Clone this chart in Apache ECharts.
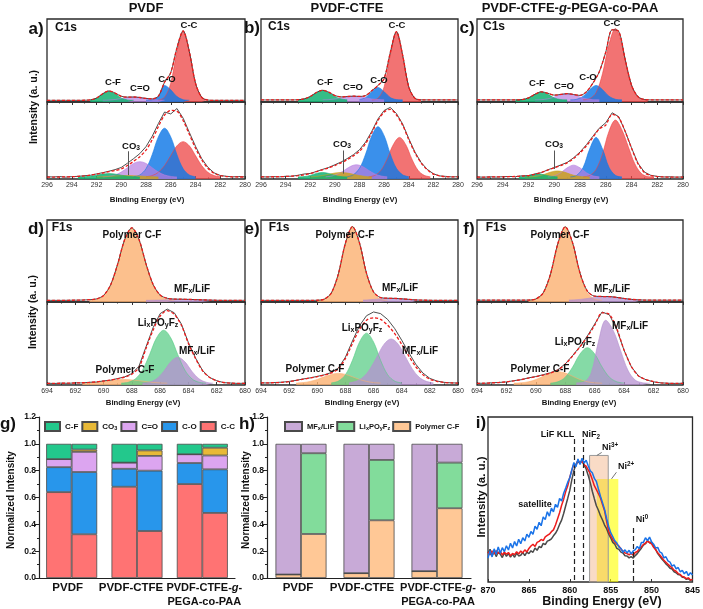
<!DOCTYPE html>
<html><head><meta charset="utf-8">
<script src="https://cdn.jsdelivr.net/npm/echarts/dist/echarts.min.js"></script>
<style>html,body{margin:0;padding:0;background:#fff}#c{width:703px;height:609px}</style>
</head><body><div id="c"></div>
<script>
// ---------------- DATA ----------------
const c1sEnergy = [296,295.5,295,294.5,294,293.5,293,292.5,292,291.5,291,290.5,290,289.5,289,288.5,288,287.5,287,286.5,286,285.5,285,284.5,284,283.5,283,282.5,282,281.5,281,280.5,280];
const f1sEnergy = [694,693.5,693,692.5,692,691.5,691,690.5,690,689.5,689,688.5,688,687.5,687,686.5,686,685.5,685,684.5,684,683.5,683,682.5,682,681.5,681,680.5,680];

// a) PVDF C1s
const aTopEnv = [2.0,2.0,2.0,2.0,2.0,2.0,2.1,2.5,4.7,9.9,13.3,10.8,6.9,5.9,6.0,5.4,4.3,3.8,7.1,23.8,35.4,65.2,85.8,60.8,22.7,5.7,2.3,2.0,2.0,2.0,2.0,2.0,2.0];
const aTopCC = [[287,2.3],[286.5,5.7],[286,22.7],[285.5,60.7],[285,85],[284.5,60.7],[284,22.7],[283.5,5.7],[283,2.3]];
const aTopCO = [[288,2.1],[287.5,2.8],[287,6.5],[286.5,20],[286,14.7],[285.5,6.5],[285,2.8],[284.5,2.1]];
const aTopCdO = [[291.5,2.1],[291,2.3],[290.5,3.0],[290,4.2],[289.5,5.4],[289,6.0],[288.5,5.4],[288,4.2],[287.5,3.0],[287,2.3],[286.5,2.1]];
const aTopCF = [[292.5,2.5],[292,4.7],[291.5,9.8],[291,13],[290.5,9.8],[290,4.7],[289.5,2.5],[289,2.0]];
const aBotEnv = [2.5,2.5,2.6,2.8,3.0,3.4,4.0,5.0,6.3,7.8,9.5,11.0,13.0,17.5,23.0,29.0,37.5,51.0,68.0,83.0,89.0,88.0,76.0,58.0,40.0,25.0,14.0,7.5,4.3,3.2,2.8,2.6,2.6];
const aBotRaw = [3.0,2.6,3.2,2.4,3.1,3.4,4.3,4.8,6.6,8.2,10.1,12.2,15.0,20.5,26.5,33.0,42.0,55.5,72.0,87.0,84.5,91.5,79.0,60.5,42.5,26.5,15.2,8.0,4.6,3.5,2.8,3.2,2.8];
const aBotCC = [[288,3.0],[287.5,4.5],[287,8.7],[286.5,17.4],[286,30.4],[285.5,43.1],[285,48.5],[284.5,43.1],[284,30.4],[283.5,17.4],[283,8.7],[282.5,4.5],[282,3.0]];
const aBotCO = [[289,3.0],[288.5,5.3],[288,13.4],[287.5,31.6],[287,54.7],[286.5,66.0],[286,54.7],[285.5,31.6],[285,13.4],[284.5,5.3],[284,3.0]];
const aBotCdO = [[291.5,2.7],[291,3.4],[290.5,5.2],[290,9.0],[289.5,14.6],[289,20.2],[288.5,22.5],[288,20.2],[287.5,14.6],[287,9.0],[286.5,5.2],[286,3.4],[285.5,2.7]];
const aBotCF = [[293.5,2.6],[293,2.9],[292.5,3.6],[292,4.9],[291.5,6.4],[291,7.0],[290.5,6.4],[290,4.9],[289.5,3.6],[289,2.9],[288.5,2.6]];
const aBotCO3 = [[292,2.7],[291.5,3.0],[291,3.4],[290.5,3.9],[290,4.3],[289.5,4.5],[289,4.3],[288.5,3.9],[288,3.4],[287.5,3.0],[287,2.7]];

// b) PVDF-CTFE C1s
const bTopEnv = [2.5,2.5,2.5,2.5,2.5,2.5,2.7,3.7,6.6,11.4,14.1,11.8,7.8,6.1,6.6,7.0,6.7,7.8,13.6,19.9,28.2,59.6,84.9,56.7,18.2,4.5,2.6,2.5,2.5,2.5,2.5,2.5,2.5];
const bTopCC = [[287,2.6],[286.5,4.5],[286,18.2],[285.5,56.7],[285,84.5],[284.5,56.7],[284,18.2],[283.5,4.5],[283,2.6]];
const bTopCO = [[288,2.9],[287.5,5.4],[287,12.4],[286.5,17.5],[286,12.4],[285.5,5.4],[285,2.9],[284.5,2.5]];
const bTopCdO = [[291,2.6],[290.5,2.9],[290,3.6],[289.5,4.9],[289,6.4],[288.5,7.0],[288,6.4],[287.5,4.9],[287,3.6],[286.5,2.9],[286,2.6]];
const bTopCF = [[293,2.7],[292.5,3.7],[292,6.6],[291.5,11.4],[291,14.0],[290.5,11.4],[290,6.6],[289.5,3.7],[289,2.7]];
const bBotEnv = [2.8,2.8,2.9,3.0,3.3,3.7,4.4,5.4,7.0,9.5,12.0,14.5,17.5,21.0,25.0,30.0,36.0,46.0,60.0,76.0,87.0,90.5,83.0,70.0,51.0,34.0,21.0,12.0,6.4,4.0,3.0,2.8,2.8];
const bBotRaw = [3.0,2.6,3.1,2.8,3.5,3.6,4.8,6.5,7.2,9.8,12.5,15.0,18.5,22.0,26.5,31.5,38.0,48.0,62.0,78.0,89.0,93.0,85.0,71.5,52.5,35.0,21.5,12.5,6.8,4.0,3.4,2.7,3.0];
const bBotCO = [[289,3.0],[288.5,5.4],[288,13.8],[287.5,32.5],[287,56.3],[286.5,68.0],[286,56.3],[285.5,32.5],[285,13.8],[284.5,5.4],[284,3.0]];
const bBotCC = [[287.25,2.9],[286.75,4.8],[286.25,11.4],[285.75,26.1],[285.25,44.8],[284.75,54.0],[284.25,44.8],[283.75,26.1],[283.25,11.4],[282.75,4.8],[282.25,2.9]];
const bBotCdO = [[290.75,2.8],[290.25,3.9],[289.75,6.5],[289.25,11.1],[288.75,16.2],[288.25,18.5],[287.75,16.2],[287.25,11.1],[286.75,6.5],[286.25,3.9],[285.75,2.8]];
const bBotCO3 = [[292,2.8],[291.5,3.3],[291,4.5],[290.5,6.1],[290,7.8],[289.5,8.5],[289,7.8],[288.5,6.1],[288,4.5],[287.5,3.3],[287,2.8]];
const bBotCF = [[293,2.6],[292.5,3.1],[292,4.7],[291.5,7.2],[291,8.5],[290.5,7.2],[290,4.7],[289.5,3.1],[289,2.6]];

// c) PVDF-CTFE-g-PEGA-co-PAA C1s
const cTopEnv = [2.5,2.5,2.5,2.5,2.5,2.5,2.5,2.9,4.9,9.3,12.3,10.5,8.3,9.1,10.0,9.0,7.9,12.3,22.7,36.5,60.0,87.0,85.3,52.0,20.4,6.4,3.0,2.5,2.5,2.5,2.5,2.5,2.5];
const cTopCC = [[287.75,2.7],[287.25,4.0],[286.75,11.3],[286.25,34.2],[285.75,69.5],[285.25,88.5],[284.75,69.5],[284.25,34.2],[283.75,11.3],[283.25,4.0],[282.75,2.7]];
const cTopCO = [[288.75,2.6],[288.25,3.3],[287.75,6.9],[287.25,14.9],[286.75,20.0],[286.25,14.9],[285.75,6.9],[285.25,3.3],[284.75,2.6]];
const cTopCdO = [[291.5,2.6],[291,2.8],[290.5,3.8],[290,5.9],[289.5,8.7],[289,10.0],[288.5,8.7],[288,5.9],[287.5,3.8],[287,2.8],[286.5,2.6]];
const cTopCF = [[293,2.5],[292.5,2.9],[292,4.9],[291.5,9.2],[291,12.0],[290.5,9.2],[290,4.9],[289.5,2.9],[289,2.5]];
const cBotEnv = [2.5,2.5,2.6,2.7,2.8,3.0,3.3,3.8,4.5,6.0,8.5,11.5,14.5,17.5,21.0,26.5,34.0,43.0,54.0,65.0,70.0,84.0,80.0,62.0,40.0,20.0,8.5,4.5,3.2,2.7,2.5,2.5,2.5];
const cBotRaw = [2.8,2.3,2.9,2.5,3.0,3.3,3.1,4.2,4.4,6.6,8.2,12.0,14.8,18.2,21.5,27.5,35.0,44.5,55.5,66.0,73.0,86.0,81.0,62.5,40.5,20.5,9.0,4.8,3.4,2.6,2.9,2.4,2.7];
const cBotCC = [[287.75,2.8],[287.25,4.6],[286.75,12.5],[286.25,32.9],[285.75,61.8],[285.25,76.5],[284.75,64.0],[284.25,42.0],[283.75,20.0],[283.25,7.5],[282.75,3.2],[282.25,2.6]];
const cBotCO = [[288.75,2.7],[288.25,4.8],[287.75,15.3],[287.25,38.9],[286.75,54.0],[286.25,38.9],[285.75,15.3],[285.25,4.8],[284.75,2.7]];
const cBotCdO = [[290.5,2.8],[290,4.1],[289.5,8.1],[289,14.5],[288.5,18.0],[288,14.5],[287.5,8.1],[287,4.1],[286.5,2.8]];
const cBotCO3 = [[292.25,2.6],[291.75,2.9],[291.25,3.9],[290.75,6.2],[290.25,9.1],[289.75,10.5],[289.25,9.1],[288.75,6.2],[288.25,3.9],[287.75,2.9],[287.25,2.6]];
const cBotCF = [[292.75,2.7],[292.25,3.5],[291.75,5.3],[291.25,6.5],[290.75,5.3],[290.25,3.5],[289.75,2.7]];

// d) PVDF F1s
const dTopEnv = [2.0,2.0,2.0,2.1,2.2,2.4,2.8,3.8,8.0,21.0,46.5,76.5,90.5,76.5,46.5,21.5,8.5,4.5,3.6,3.4,3.2,2.9,2.6,2.3,2.1,2.0,2.0,2.0,2.0];
const dTopPCF = [[691,2.2],[690.5,3.2],[690,7.5],[689.5,20.6],[689,46.0],[688.5,76.0],[688,90.0],[687.5,76.0],[687,46.0],[686.5,20.6],[686,7.5],[685.5,3.2],[685,2.2]];
const dTopMF = [[687,2.0],[686,2.3],[685.5,2.7],[685,3.1],[684.5,3.2],[684,3.1],[683.5,2.8],[683,2.4],[682,2.0]];
const dBotEnv = [2.0,2.0,2.1,2.2,2.4,2.7,3.1,3.8,4.8,6.0,7.5,9.5,13.0,21.0,44.0,66.0,83.0,89.5,85.0,72.0,50.0,32.0,17.0,9.0,5.0,3.0,2.3,2.0,2.0];
const dBotRaw = [2.2,1.8,2.3,2.0,2.6,2.5,3.3,3.6,5.0,5.8,7.8,9.8,13.8,22.5,46.0,69.0,86.0,91.5,87.0,73.5,51.0,32.5,17.5,9.0,5.2,2.8,2.4,1.9,2.2];
const dBotPCF = [[691.5,2.2],[691,2.5],[690.5,3.1],[690,4.1],[689.5,5.2],[689,6.1],[688.5,6.5],[688,6.1],[687.5,5.2],[687,4.1],[686.5,3.1],[686,2.5],[685.5,2.2]];
const dBotLPF = [[688.75,2.25],[688.25,3.3],[687.75,7.4],[687.25,17.9],[686.75,36.5],[686.25,56.8],[685.75,66.0],[685.25,56.8],[684.75,36.5],[684.25,17.9],[683.75,7.4],[683.25,3.3],[682.75,2.25]];
const dBotMF = [[687.25,2.2],[686.75,3.4],[686.25,7.4],[685.75,16.4],[685.25,27.9],[684.75,33.5],[684.25,27.9],[683.75,16.4],[683.25,7.4],[682.75,3.4],[682.25,2.2]];

// e) PVDF-CTFE F1s
const eTopEnv = [2.0,2.0,2.0,2.0,2.0,2.0,2.0,2.0,2.15,3.5,11.0,34.4,71.8,92.0,72.0,34.9,12.2,5.4,4.6,4.4,3.9,3.2,2.5,2.2,2.1,2.0,2.0,2.0,2.0];
const eTopPCF = [[690,2.15],[689.5,3.5],[689,11.0],[688.5,34.4],[688,71.8],[687.5,92.0],[687,71.8],[686.5,34.4],[686,11.0],[685.5,3.5],[685,2.15]];
const eTopMF = [[686.75,2.3],[686.25,2.8],[685.75,3.5],[685.25,4.2],[684.75,4.5],[684.25,4.2],[683.75,3.5],[683.25,2.8],[682.75,2.3]];
const eBotEnv = [2.5,2.6,2.8,3.2,4.0,5.5,7.0,8.5,10.0,12.0,14.5,19.5,32.0,50.0,67.0,78.0,81.0,79.0,72.0,62.0,49.0,35.0,22.0,12.5,7.0,4.5,3.0,2.5,2.3];
const eBotRaw = [2.6,2.4,3.0,3.4,4.3,5.6,7.3,8.6,10.4,12.3,15.0,20.5,33.5,53.0,71.5,83.5,88.0,86.0,79.0,68.0,54.0,39.0,25.0,14.5,8.0,4.8,3.2,2.6,2.4];
const eBotPCF = [[691.5,2.3],[691,2.9],[690.5,4.3],[690,6.7],[689.5,9.9],[689,12.8],[688.5,14.0],[688,12.8],[687.5,9.9],[687,6.7],[686.5,4.3],[686,2.9],[685.5,2.3]];
const eBotLPF = [[689,2.5],[688.5,4.7],[688,12.4],[687.5,29.7],[687,51.7],[686.5,62.5],[686,51.7],[685.5,29.7],[685,12.4],[684.5,4.7],[684,2.5]];
const eBotMF = [[687.75,2.6],[687.25,4.4],[686.75,9.2],[686.25,19.4],[685.75,34.4],[685.25,49.2],[684.75,55.5],[684.25,49.2],[683.75,34.4],[683.25,19.4],[682.75,9.2],[682.25,4.4],[681.75,2.6]];

// f) PVDF-CTFE-g-PEGA-co-PAA F1s
const fTopEnv = [2.2,2.2,2.2,2.2,2.2,2.2,2.2,2.35,3.7,11.2,34.4,71.6,91.7,72.0,35.4,13.2,7.1,6.7,6.6,5.6,4.3,3.2,2.6,2.3,2.25,2.2,2.2,2.2,2.2];
const fTopPCF = [[690.5,2.35],[690,3.7],[689.5,11.15],[689,34.4],[688.5,71.6],[688,91.7],[687.5,71.6],[687,34.4],[686.5,11.15],[686,3.7],[685.5,2.35]];
const fTopMF = [[687.75,2.4],[687.25,2.8],[686.75,3.65],[686.25,4.9],[685.75,6.2],[685.25,6.7],[684.75,6.2],[684.25,4.9],[683.75,3.65],[683.25,2.8],[682.75,2.4]];
const fBotEnv = [2.0,2.2,2.5,3.0,3.8,5.0,6.5,8.3,10.0,12.0,14.5,18.0,25.0,35.0,46.0,58.0,72.0,87.0,85.0,68.0,42.0,22.0,10.5,6.5,4.0,2.5,2.0,2.0,2.0];
const fBotRaw = [2.2,2.0,2.7,3.1,3.7,5.2,6.4,8.6,10.2,12.4,14.8,18.5,25.5,35.5,46.5,59.0,73.5,88.0,84.5,67.0,41.5,21.5,10.5,6.2,3.8,2.6,2.1,1.9,2.1];
const fBotPCF = [[691.5,2.2],[691,2.6],[690.5,3.9],[690,6.5],[689.5,10.5],[689,14.4],[688.5,16.0],[688,14.4],[687.5,10.5],[687,6.5],[686.5,3.9],[686,2.6],[685.5,2.2]];
const fBotLPF = [[689,2.3],[688.5,3.9],[688,9.4],[687.5,21.7],[687,37.3],[686.5,45.0],[686,37.3],[685.5,21.7],[685,9.4],[684.5,3.9],[684,2.3]];
const fBotMF = [[687.25,2.5],[686.75,3.5],[686.25,14.0],[685.75,52.0],[685.25,78.0],[684.75,66.0],[684.25,42.0],[683.75,18.0],[683.25,6.0],[682.75,2.8],[682.25,2.2]];

// g) C1s normalized intensities (left bar / right bar per sample)
const samples = ['PVDF', 'PVDF-CTFE', 'PVDF-CTFE-g-PEGA-co-PAA'];
const gL_CC = [0.640, 0.680, 0.700], gL_CO = [0.186, 0.134, 0.157], gL_CdO = [0.060, 0.046, 0.065], gL_CO3 = [0, 0, 0], gL_CF = [0.114, 0.140, 0.078];
const gR_CC = [0.326, 0.350, 0.485], gR_CO = [0.464, 0.450, 0.325], gR_CdO = [0.150, 0.110, 0.103], gR_CO3 = [0.017, 0.041, 0.058], gR_CF = [0.043, 0.049, 0.029];
// h) F1s normalized intensities
const hL_PCF = [0.026, 0.036, 0.051], hL_LPF = [0, 0, 0], hL_MF = [0.974, 0.964, 0.949];
const hR_PCF = [0.328, 0.430, 0.520], hR_LPF = [0.602, 0.450, 0.340], hR_MF = [0.070, 0.120, 0.140];
const yTicks = [0, 0.2, 0.4, 0.6, 0.8, 1.0, 1.2];

// i) Ni 2p spectra
const niEnergy = [870,
869.75,869.5,869.25,869, 868.75,868.5,868.25,868, 867.75,867.5,867.25,867, 866.75,866.5,866.25,866, 865.75,865.5,865.25,865,
864.75,864.5,864.25,864, 863.75,863.5,863.25,863, 862.75,862.5,862.25,862, 861.75,861.5,861.25,861, 860.75,860.5,860.25,860,
859.75,859.5,859.25,859, 858.75,858.5,858.25,858, 857.75,857.5,857.25,857, 856.75,856.5,856.25,856, 855.75,855.5,855.25,855,
854.75,854.5,854.25,854, 853.75,853.5,853.25,853, 852.75,852.5,852.25,852, 851.75,851.5,851.25,851, 850.75,850.5,850.25,850,
849.75,849.5,849.25,849, 848.75,848.5,848.25,848, 847.75,847.5,847.25,847, 846.75,846.5,846.25,846, 845.75,845.5,845.25,845];
const niBlack = [17.5,
19.8,16.0,18.6,15.4, 18.2,16.9,14.8,17.8, 15.6,17.2,15.1,16.9, 15.0,17.5,15.8,16.2, 17.9,16.0,18.1,17.2,
18.9,18.0,20.6,19.2, 21.5,20.8,23.4,22.6, 24.8,25.3,26.1,28.0, 29.5,31.8,34.9,37.5, 41.5,46.2,50.8,55.5,
62.0,67.5,71.2,73.5, 71.8,74.0,70.8,68.5, 64.6,60.2,55.0,50.5, 46.2,43.5,40.2,37.6, 34.5,32.3,29.1,26.8,
24.0,22.9,20.4,19.8, 18.1,17.6,15.9,15.8, 14.6,15.4,14.5,16.0, 17.2,18.9,20.5,22.4, 23.2,25.1,23.8,24.2,
21.5,19.8,17.2,15.6, 13.9,12.6,11.0,9.8, 8.3,7.9,6.2,5.6, 4.5,4.2,2.9,2.7, 1.6,2.2,1.0,1.5];
const niRed = [18.2,
16.5,18.8,17.0,19.0, 17.2,18.6,16.4,18.0, 16.8,17.9,15.9,17.3, 16.6,18.4,17.0,18.8, 17.6,19.5,18.2,20.3,
21.8,22.9,21.5,24.0, 24.6,25.8,25.1,27.4, 28.2,29.0,30.5,31.6, 34.5,38.2,42.0,46.5, 50.2,54.8,58.3,63.5,
67.8,71.6,70.5,73.8, 72.1,73.5,71.0,70.2, 68.0,65.6,62.1,58.4, 56.0,53.5,50.9,47.0, 43.2,36.8,31.0,27.9,
25.8,24.2,22.9,21.8, 20.0,18.8,17.6,17.2, 16.5,17.4,16.2,17.9, 18.5,20.1,21.4,22.8, 23.5,24.8,23.9,23.1,
21.0,19.5,17.8,16.4, 14.9,13.2,12.0,10.8, 9.6,8.7,7.2,6.5, 5.1,4.6,3.3,3.0, 2.1,2.5,1.2,1.6];
const niBlue = [14.5,
19.0,15.2,20.1,16.8, 21.2,17.5,20.8,18.4, 22.0,19.4,23.5,20.6, 24.5,21.8,25.9,23.2, 26.8,24.9,29.0,27.1,
30.6,28.9,33.8,32.0, 36.2,34.1,39.5,37.8, 42.6,39.9,44.8,42.5, 47.1,45.2,50.6,49.0, 53.8,56.9,60.5,63.2,
67.9,72.4,69.8,74.6, 71.2,75.0,72.1,73.8, 70.5,67.4,66.2,62.8, 60.9,56.4,52.0,48.1, 44.0,38.5,33.8,29.9,
27.5,25.0,23.6,21.2, 20.4,18.0,19.5,17.6, 19.2,17.0,18.8,19.6, 21.5,20.2,23.9,24.0, 26.8,25.1,27.2,24.3,
22.9,20.6,21.0,18.2, 17.5,14.6,15.3,12.8, 12.1,9.6,10.4,8.0, 8.8,6.2,7.1,5.0, 6.4,3.9,5.6,4.2];

// ---------------- BUILD ----------------
const FONT = '"Liberation Sans", Arial, Helvetica, sans-serif';
const zip = (xs, ys) => xs.map((x, i) => [x, ys[i]]);
const COL = {CC:'#ee4242', CO:'#0f78e6', CdO:'#b67ee0', CF:'#12b272', CO3:'#c8a020', PCF:'#fbb070', LPF:'#56cc84', MF:'#b590d0'};
const OP = {CC:0.74, CO:0.82, CdO:0.7, CF:0.85, CO3:0.85, PCF:0.8, LPF:0.72, MF:0.75};

const grid = [], xAxis = [], yAxis = [], series = [];
const tickStyle = {color:'#333', width:1};

function sub(left, width, top, height, xmin, xmax, bottom) {
  const gi = grid.length;
  grid.push({left, top, width, height, show:true, borderColor:'#2a2a2a', borderWidth:1.3, backgroundColor:'transparent'});
  const xi = xAxis.length;
  const base = {gridIndex:gi, type:'value', min:xmin, max:xmax, inverse:true, interval:2, splitLine:{show:false}, axisLine:{show:false}};
  if (bottom) {
    xAxis.push(Object.assign({}, base, {position:'bottom', axisTick:{show:true, inside:true, length:3, lineStyle:tickStyle},
      minorTick:{show:true, splitNumber:2, length:1.5, lineStyle:tickStyle},
      axisLabel:{show:true, fontSize:7, color:'#333', margin:3, fontFamily:FONT}}));
    xAxis.push(Object.assign({}, base, {position:'top', axisTick:{show:true, inside:true, length:3, lineStyle:tickStyle},
      minorTick:{show:true, splitNumber:2, length:1.5, lineStyle:tickStyle}, axisLabel:{show:false}}));
  } else {
    xAxis.push(Object.assign({}, base, {axisTick:{show:false}, axisLabel:{show:false}}));
  }
  const yi = yAxis.length;
  yAxis.push({gridIndex:gi, type:'value', min:0, max:100, show:false});
  return {xi, yi};
}
function comp(ax, key, data) {
  series.push({type:'line', xAxisIndex:ax.xi, yAxisIndex:ax.yi, data, smooth:0.35, symbol:'none', silent:true,
    lineStyle:{width:0.6, color:COL[key]}, areaStyle:{color:COL[key], opacity:OP[key]}});
}
function raw(ax, data, smooth) {
  series.push({type:'line', xAxisIndex:ax.xi, yAxisIndex:ax.yi, data, smooth:smooth?0.3:false, symbol:'none', silent:true,
    lineStyle:{width:0.9, color:'#3a3a3a'}});
}
function env(ax, data) {
  series.push({type:'line', xAxisIndex:ax.xi, yAxisIndex:ax.yi, data, smooth:0.3, symbol:'none', silent:true,
    lineStyle:{width:1.3, color:'#ee1a1a', type:[3,2]}});
}
function leader(ax, pts, style) {
  series.push({type:'line', xAxisIndex:ax.xi, yAxisIndex:ax.yi, data:[], silent:true, z:8,
    markLine:{silent:true, symbol:'none', label:{show:false}, animation:false,
      lineStyle:Object.assign({color:'#555', width:1, type:'solid'}, style||{}),
      data: pts.map(p => [{coord:[p[0], p[1]]}, {coord:[p[2], p[3]]}])}});
}

const COLS = [{left:47, width:198}, {left:261, width:197}, {left:477, width:206}];
const R1 = {t:[19,83], b:[102,77]}, R2 = {t:[220,82], b:[302,83]};

// C1s row
const c1s = [
  {top:[['CC',aTopCC],['CO',aTopCO],['CdO',aTopCdO],['CF',aTopCF]], tEnv:aTopEnv,
   bot:[['CC',aBotCC],['CO',aBotCO],['CdO',aBotCdO],['CO3',aBotCO3],['CF',aBotCF]], bEnv:aBotEnv, bRaw:aBotRaw, lead:[289.4,36,289.4,5]},
  {top:[['CC',bTopCC],['CO',bTopCO],['CdO',bTopCdO],['CF',bTopCF]], tEnv:bTopEnv,
   bot:[['CC',bBotCC],['CO',bBotCO],['CdO',bBotCdO],['CO3',bBotCO3],['CF',bBotCF]], bEnv:bBotEnv, bRaw:bBotRaw, lead:[289.3,37,289.3,7]},
  {top:[['CC',cTopCC],['CO',cTopCO],['CdO',cTopCdO],['CF',cTopCF]], tEnv:cTopEnv,
   bot:[['CC',cBotCC],['CO',cBotCO],['CdO',cBotCdO],['CO3',cBotCO3],['CF',cBotCF]], bEnv:cBotEnv, bRaw:cBotRaw, lead:[290.0,37,290.0,13]}
];
c1s.forEach((p, k) => {
  const c = COLS[k];
  const t = sub(c.left, c.width, R1.t[0], R1.t[1], 280, 296, false);
  p.top.forEach(q => comp(t, q[0], q[1]));
  raw(t, zip(c1sEnergy, p.tEnv), true);
  env(t, zip(c1sEnergy, p.tEnv));
  const b = sub(c.left, c.width, R1.b[0], R1.b[1], 280, 296, true);
  p.bot.forEach(q => comp(b, q[0], q[1]));
  raw(b, zip(c1sEnergy, p.bRaw), false);
  env(b, zip(c1sEnergy, p.bEnv));
  leader(b, [p.lead]);
});
// F1s row
const f1s = [
  {top:[['PCF',dTopPCF],['MF',dTopMF]], tEnv:dTopEnv, bot:[['PCF',dBotPCF],['LPF',dBotLPF],['MF',dBotMF]], bEnv:dBotEnv, bRaw:dBotRaw},
  {top:[['PCF',eTopPCF],['MF',eTopMF]], tEnv:eTopEnv, bot:[['PCF',eBotPCF],['LPF',eBotLPF],['MF',eBotMF]], bEnv:eBotEnv, bRaw:eBotRaw},
  {top:[['PCF',fTopPCF],['MF',fTopMF]], tEnv:fTopEnv, bot:[['PCF',fBotPCF],['LPF',fBotLPF],['MF',fBotMF]], bEnv:fBotEnv, bRaw:fBotRaw}
];
f1s.forEach((p, k) => {
  const c = COLS[k];
  const t = sub(c.left, c.width, R2.t[0], R2.t[1], 680, 694, false);
  p.top.forEach(q => comp(t, q[0], q[1]));
  raw(t, zip(f1sEnergy, p.tEnv), true);
  env(t, zip(f1sEnergy, p.tEnv));
  const b = sub(c.left, c.width, R2.b[0], R2.b[1], 680, 694, true);
  p.bot.forEach(q => comp(b, q[0], q[1]));
  raw(b, zip(f1sEnergy, p.bRaw), false);
  env(b, zip(f1sEnergy, p.bEnv));
});

// bar panels g, h
function barPanel(left, width, pads) {
  const gi = grid.length;
  grid.push({left, top:417, width, height:165});
  const xi = xAxis.length;
  const lab = {fontWeight:'bold', fontSize:11.5, fontFamily:FONT, color:'#111', lineHeight:14};
  const lab3 = Object.assign({}, lab, {fontSize:11, padding:[0, 0, 0, pads[2]]});
  xAxis.push({gridIndex:gi, type:'category', data:samples, axisTick:{show:false},
    axisLine:{lineStyle:{color:'#222', width:1.2}},
    axisLabel:{interval:0, margin:3, color:'#111', fontSize:11.5, fontWeight:'bold', fontFamily:FONT, lineHeight:14,
      formatter: v => v === samples[0] ? '{l0|PVDF}' : (v === samples[1] ? '{l1|PVDF-CTFE}' : '{l2|PVDF-CTFE-}{i|g}{l3|-}\n{l2|PEGA-co-PAA}'),
      rich:{i:Object.assign({}, lab, {fontSize:11, fontStyle:'italic'}),
            l0:Object.assign({}, lab, {padding:[0, pads[0], 0, 0]}),
            l1:Object.assign({}, lab, {padding:[0, pads[1], 0, 0]}),
            l2:lab3, l3:Object.assign({}, lab, {fontSize:11})}}});
  const yi = yAxis.length;
  yAxis.push({gridIndex:gi, type:'value', min:yTicks[0], max:yTicks[yTicks.length-1], interval:0.2, splitLine:{show:false},
    axisLine:{show:true, lineStyle:{color:'#222', width:1.2}}, axisTick:{show:true, length:4, lineStyle:{color:'#222'}},
    minorTick:{show:true, splitNumber:2, length:2, lineStyle:{color:'#222'}},
    axisLabel:{fontSize:8.5, fontWeight:'bold', color:'#111', margin:3, fontFamily:FONT, formatter: v => v.toFixed(1)}});
  return {xi, yi};
}
const BCOL = {CC:'#ff7373', CO:'#2896eb', CdO:'#dca5f0', CO3:'#e8b937', CF:'#23c88c', PCF:'#ffc896', LPF:'#82dc9b', MF:'#c8aad7'};
function bar(ax, name, stack, color, data) {
  series.push({type:'bar', name, stack, data, xAxisIndex:ax.xi, yAxisIndex:ax.yi, barWidth:25.5, barGap:'0%',
    itemStyle:{color, borderColor:'#4a4a4a', borderWidth:0.8}, silent:true});
}
const gAx = barPanel(39, 196, [8, 12, 4]);
[['C-C',gL_CC,'CC'],['C-O',gL_CO,'CO'],['C=O',gL_CdO,'CdO'],['CO3',gL_CO3,'CO3'],['C-F',gL_CF,'CF']].forEach(s => bar(gAx, s[0], 'gL', BCOL[s[2]], s[1]));
[['C-C',gR_CC,'CC'],['C-O',gR_CO,'CO'],['C=O',gR_CdO,'CdO'],['CO3',gR_CO3,'CO3'],['C-F',gR_CF,'CF']].forEach(s => bar(gAx, s[0], 'gR', BCOL[s[2]], s[1]));
const hAx = barPanel(267, 204, [6, 14, 2]);
[['Polymer C-F',hL_PCF,'PCF'],['LixPOyFz',hL_LPF,'LPF'],['MFx/LiF',hL_MF,'MF']].forEach(s => bar(hAx, s[0], 'hL', BCOL[s[2]], s[1]));
[['Polymer C-F',hR_PCF,'PCF'],['LixPOyFz',hR_LPF,'LPF'],['MFx/LiF',hR_MF,'MF']].forEach(s => bar(hAx, s[0], 'hR', BCOL[s[2]], s[1]));

// panel i
const iG = grid.length;
grid.push({left:488, top:417, width:207, height:165, show:true, borderColor:'#2a2a2a', borderWidth:1.3, backgroundColor:'transparent'});
const iX = xAxis.length;
xAxis.push({gridIndex:iG, type:'value', min:845, max:870, interval:5, inverse:true, splitLine:{show:false}, axisLine:{show:false},
  axisTick:{show:true, inside:true, length:3, lineStyle:tickStyle},
  axisLabel:{fontSize:9, fontWeight:'bold', color:'#111', margin:4, fontFamily:FONT}});
const iY = yAxis.length;
yAxis.push({gridIndex:iG, type:'value', min:0, max:100, show:false});
const iAx = {xi:iX, yi:iY};
series.push({type:'line', xAxisIndex:iX, yAxisIndex:iY, data:[], z:1, silent:true,
  markArea:{silent:true, label:{show:false}, data:[
    [{coord:[856.7, 62.4], itemStyle:{color:'rgba(255,255,0,0.62)'}}, {coord:[854.07, 0]}],
    [{coord:[857.58, 76.7], itemStyle:{color:'rgba(240,170,120,0.42)', borderColor:'#9a9a9a', borderWidth:1}}, {coord:[855.3, 0]}]
  ]}});
[['#4a4a4a', niBlack], ['#ee1c1c', niRed], ['#1a73e8', niBlue]].forEach((s, k) => {
  series.push({type:'line', xAxisIndex:iX, yAxisIndex:iY, data:zip(niEnergy, s[1]), symbol:'none', z:3+k, silent:true,
    lineStyle:{color:s[0], width:1.5}});
});
leader(iAx, [[859.4,86.7,859.4,0],[858.3,86.7,858.3,0],[852.2,32.7,852.2,0]], {color:'#222', width:1.2, type:[5,3]});
leader(iAx, [[856.1,78.5,856.7,76.7],[854.3,66.5,854.9,62.5]], {color:'#777', width:1});

// ---------------- TEXT ----------------
function rich(size) {
  const s = Math.round(size*0.7*10)/10;
  return {
    s:{fontSize:s, fontWeight:'bold', fontFamily:FONT, fill:'#111', padding:[Math.round(size*0.5),0,0,0]},
    p:{fontSize:s, fontWeight:'bold', fontFamily:FONT, fill:'#111', padding:[0,0,Math.round(size*0.6),0]},
    i:{fontSize:size, fontWeight:'bold', fontStyle:'italic', fontFamily:FONT, fill:'#111'}
  };
}
function T(x, y, text, size, rot) {
  const e = {type:'text', x, y, silent:true, z:100,
    style:{text, fontSize:size, fontWeight:'bold', fontFamily:FONT, fill:'#111', align:'center', verticalAlign:'middle', rich:rich(size)}};
  if (rot) e.rotation = Math.PI/2;
  return e;
}
const MF = 'MF{s|x}/LiF', LPF = 'Li{s|x}PO{s|y}F{s|z}', CO3 = 'CO{s|3}';
const texts = [
  T(146,8,'PVDF',13), T(347,8,'PVDF-CTFE',13), T(570,8,'PVDF-CTFE-{i|g}-PEGA-co-PAA',13),
  T(36,29,'a)',17), T(252,28,'b)',17), T(467,28,'c)',17), T(36,229,'d)',17), T(252,229,'e)',17), T(469,229,'f)',17),
  T(8,424,'g)',17), T(247,424,'h)',17), T(481,423,'i)',17),
  T(66,28,'C1s',12), T(279,27,'C1s',12), T(494,27,'C1s',12),
  T(62,228,'F1s',12), T(279,228,'F1s',12), T(496,228,'F1s',12),
  T(189,25,'C-C',9.5), T(167,79,'C-O',9.5), T(140,88,'C=O',9.5), T(113,82,'C-F',9.5), T(131,146,CO3,9.5),
  T(397,25,'C-C',9.5), T(379,80,'C-O',9.5), T(353,87,'C=O',9.5), T(325,82,'C-F',9.5), T(342,144,CO3,9.5),
  T(612,23,'C-C',9.5), T(588,77,'C-O',9.5), T(564,86,'C=O',9.5), T(537,83,'C-F',9.5), T(554,144,CO3,9.5),
  T(132,235,'Polymer C-F',10), T(192,289,MF,10), T(158,323,LPF,10), T(197,351,MF,10), T(125,370,'Polymer C-F',10),
  T(345,235,'Polymer C-F',10), T(400,288,MF,10), T(362,328,LPF,10), T(420,351,MF,10), T(315,369,'Polymer C-F',10),
  T(560,235,'Polymer C-F',10), T(612,289,MF,10), T(630,326,MF,10), T(575,342,LPF,10), T(540,369,'Polymer C-F',10),
  T(147,200,'Binding Energy (eV)',7.8), T(360,200,'Binding Energy (eV)',7.8), T(571,200,'Binding Energy (eV)',7.8),
  T(143,403,'Binding Energy (eV)',7.8), T(362,403,'Binding Energy (eV)',7.8), T(579,403,'Binding Energy (eV)',7.8),
  T(34,107,'Intensity (a. u.)',10.5,true), T(33,312,'Intensity (a. u.)',10.5,true), T(481.5,497,'Intensity (a. u.)',11.5,true),
  T(11,500,'Normalized Intensity',10,true), T(246,500,'Normalized Intensity',10,true),
  T(602,602,'Binding Energy (eV)',12.5),
  T(557.5,435,'LiF KLL',9), T(591,435,'NiF{s|2}',9), T(610,448,'Ni{p|3+}',9), T(626,467,'Ni{p|2+}',9), T(642,520,'Ni{p|0}',9),
  T(535,505,'satellite',9)
];

const legRich = {s:{fontSize:5.5, fontWeight:'bold', fontFamily:FONT, padding:[4,0,0,0]}};
const option = {
  animation:false,
  backgroundColor:'#fff',
  grid, xAxis, yAxis, series,
  legend:[
    {data:['C-F','CO3','C=O','C-O','C-C'], left:44, top:421, itemWidth:15, itemHeight:9, itemGap:3, padding:0, icon:'rect',
     selectedMode:false, textStyle:{fontSize:8, fontWeight:'bold', color:'#111', fontFamily:FONT, rich:legRich},
     formatter: n => n === 'CO3' ? 'CO{s|3}' : n},
    {data:['MFx/LiF','LixPOyFz','Polymer C-F'], left:284, top:421, itemWidth:17, itemHeight:9, itemGap:2, padding:0, icon:'rect',
     selectedMode:false, textStyle:{fontSize:7.5, fontWeight:'bold', color:'#111', fontFamily:FONT, rich:legRich},
     formatter: n => n === 'MFx/LiF' ? 'MF{s|x}/LiF' : (n === 'LixPOyFz' ? 'Li{s|x}PO{s|y}F{s|z}' : n)}
  ],
  graphic: texts
};
const chart = echarts.init(document.getElementById('c'), null, {renderer:'canvas'});
chart.setOption(option);
</script>
</body></html>
